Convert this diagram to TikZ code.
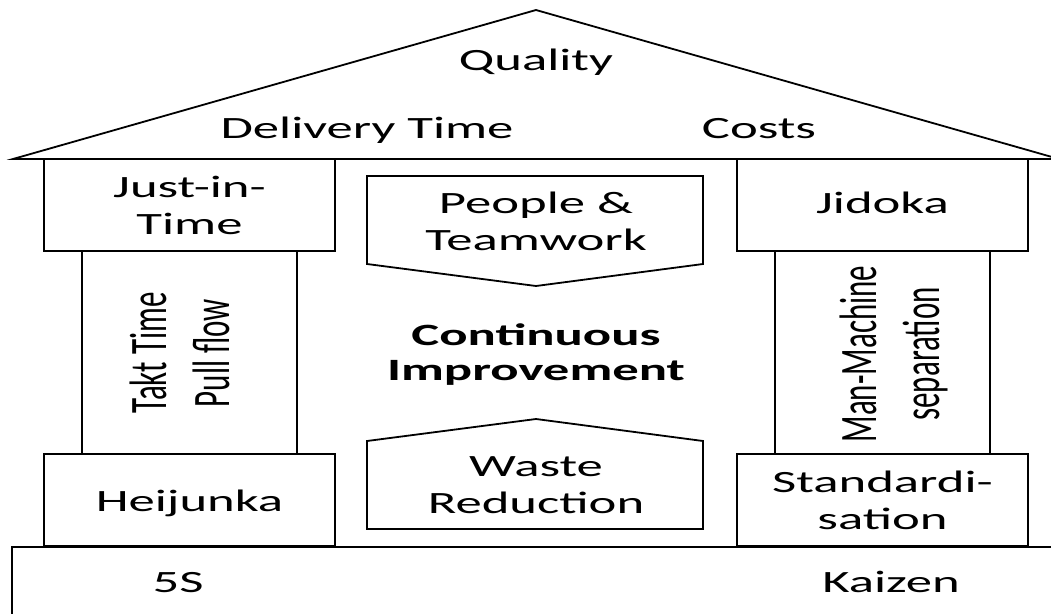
\documentclass[tikz,border=0pt]{standalone}
\usepackage{fontspec}
\setmainfont{Carlito}
\begin{document}
\begin{tikzpicture}[x=1pt,y=-1pt,line width=1.8pt,line join=miter,
  box/.style={draw,rectangle,inner sep=0pt},
  txt/.style={xscale=1.7,font=\fontsize{31}{37}\selectfont,align=center,inner sep=0pt},
  vtxt/.style={rotate=90,yscale=1.7,font=\fontsize{31}{37}\selectfont,align=center,inner sep=0pt},
  boldtxt/.style={txt,font=\fontsize{31}{35}\selectfont\bfseries}]
\useasboundingbox (0,0) rectangle (1051,613);
\clip (0,0) rectangle (1051,613);
% roof
\coordinate (roofL) at (13,159);
\coordinate (apex) at (536,10);
\coordinate (roofR) at (1059,159);
\draw (roofL) -- (apex) -- (roofR) -- cycle;
% foundation
\node[box,minimum width=1060pt,minimum height=80pt,anchor=north west] (base) at (11,546) {};
% left pillar
\node[box,minimum width=291pt,minimum height=92pt] (jit) at (189.5,205) {};
\node[box,minimum width=215pt,minimum height=203pt] (takt) at (189.5,352.5) {};
\node[box,minimum width=291pt,minimum height=92pt] (heij) at (189.5,500) {};
% right pillar
\node[box,minimum width=291pt,minimum height=92pt] (jid) at (882.5,205) {};
\node[box,minimum width=215pt,minimum height=203pt] (mm) at (882.5,352.5) {};
\node[box,minimum width=291pt,minimum height=92pt] (std) at (882.5,500) {};
% centre arrows
\draw (367,176) coordinate (pA) -- (703,176) -- (703,264) -- (536,286) coordinate (pTip) -- (367,264) -- cycle;
\draw (367,529) coordinate (wA) -- (367,441) -- (536,419) coordinate (wTip) -- (703,441) -- (703,529) -- cycle;
% texts
\node[txt,anchor=base] (tq) at (536,70) {Quality};
\node[txt,anchor=base] (td) at (367,138) {Delivery Time};
\node[txt,anchor=base] (tc) at (759,138) {Costs};
\node[txt] (tjit) at (jit) {Just-in-\\Time};
\node[txt,anchor=base] (tjid) at (882.5,213) {Jidoka};
\node[vtxt] (ttakt) at (180,353) {Takt Time\\Pull flow};
\node[vtxt] (tmm) at (894,354) {Man-Machine\\separation};
\node[txt,anchor=base] (theij) at (189.5,511) {Heijunka};
\node[txt] (tstd) at (882.5,500) {Standardi-\\sation};
\node[txt] (tpeople) at (536,221) {People \&\\Teamwork};
\node[boldtxt] (tci) at (536,355) {Continuous\\Improvement};
\node[txt] (twaste) at (536,485) {Waste\\Reduction};
\node[txt,anchor=base] (t5s) at (178,592) {5S};
\node[txt,anchor=base] (tkai) at (891,592) {Kaizen};
\end{tikzpicture}
\end{document}
